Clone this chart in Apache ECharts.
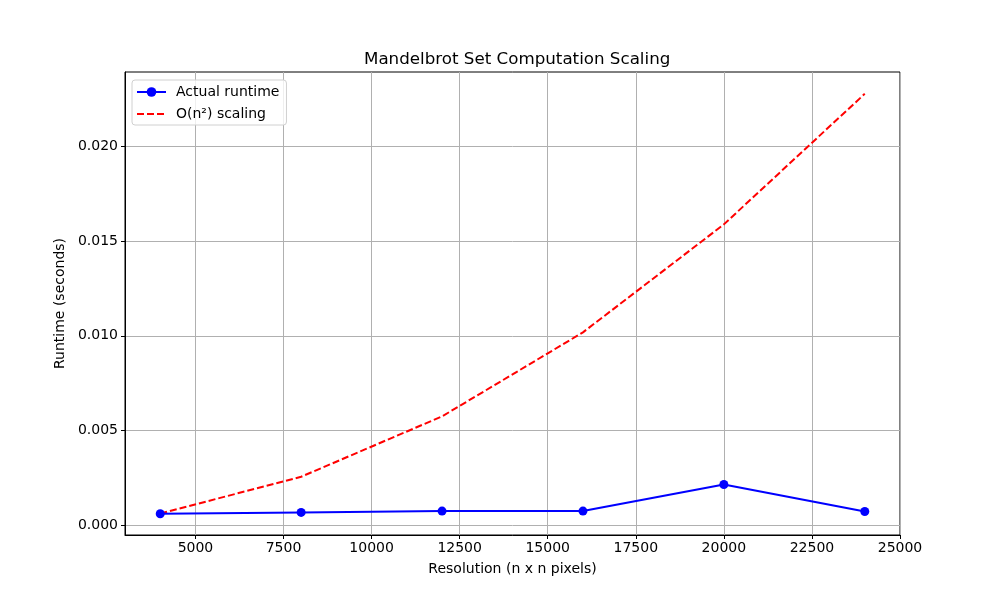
<!DOCTYPE html>
<html>
<head>
<meta charset="utf-8">
<script src="https://cdn.jsdelivr.net/npm/echarts@6/dist/echarts.min.js"></script>
<style>
  html, body { margin: 0; padding: 0; background: #fff; }
  #chart { width: 1000px; height: 600px; }
</style>
</head>
<body>
<div id="chart"></div>
<script>
// resolution n (n x n pixels)
const resolutions = [4000, 8000, 12000, 16000, 20000, 24000];
// measured runtime, seconds
const actualRuntime = [0.00062, 0.00069, 0.00076, 0.00076, 0.00216, 0.00074];
// O(n^2) reference curve, seconds
const quadScaling = [0.00063, 0.00257, 0.00575, 0.01018, 0.01587, 0.02275];
const xTicks = [5000, 7500, 10000, 12500, 15000, 17500, 20000, 22500, 25000];
const yTicks = [0, 0.005, 0.010, 0.015, 0.020];

const font = "DejaVu Sans";
const chart = echarts.init(document.getElementById("chart"));

const pairs = (ys) => resolutions.map((x, i) => [x, ys[i]]);

chart.setOption({
  animation: false,
  backgroundColor: "#fff",
  textStyle: { fontFamily: font },
  title: {
    text: "Mandelbrot Set Computation Scaling",
    left: 359,
    top: 46,
    textStyle: { fontFamily: font, fontSize: 16.7, fontWeight: "normal", color: "#000" },
  },
  grid: {
    left: 125, right: 100, top: 72, bottom: 65,
    show: true, borderColor: "#000", borderWidth: 1, backgroundColor: "#fff",
  },
  legend: {
    orient: "vertical",
    left: 132, top: 80,
    itemWidth: 29, itemHeight: 12, itemGap: 8,
    padding: [5, 7, 4, 4],
    borderColor: "#d0d0d0", borderWidth: 1, borderRadius: 3,
    backgroundColor: "rgba(255,255,255,0.8)",
    textStyle: { fontFamily: font, fontSize: 14, color: "#000", padding: [0, 0, 0, 5] },
    data: [
      { name: "Actual runtime" },
      { name: "O(n²) scaling", itemStyle: { opacity: 0 } },
    ],
  },
  xAxis: {
    type: "value",
    min: 3000, max: 25000,
    name: "Resolution (n x n pixels)",
    nameLocation: "middle", nameGap: 27,
    nameTextStyle: { fontFamily: font, fontSize: 14, color: "#000" },
    axisLine: { show: true, onZero: false, lineStyle: { color: "#000", width: 1 } },
    axisTick: { show: true, length: 4, lineStyle: { color: "#000" }, customValues: xTicks },
    axisLabel: {
      customValues: xTicks, fontFamily: font, fontSize: 14, color: "#000", margin: 6,
      formatter: (v) => String(v),
    },
    splitLine: { show: true, lineStyle: { color: "#b0b0b0", width: 1 } },
  },
  yAxis: {
    type: "value",
    min: -0.0005, max: 0.0239,
    name: "Runtime (seconds)",
    nameLocation: "middle", nameGap: 56, nameRotate: 90,
    nameTextStyle: { fontFamily: font, fontSize: 14, color: "#000" },
    axisLine: { show: true, onZero: false, lineStyle: { color: "#000", width: 1 } },
    axisTick: { show: true, length: 4, lineStyle: { color: "#000" }, customValues: yTicks },
    axisLabel: {
      customValues: yTicks, fontFamily: font, fontSize: 14, color: "#000", margin: 7,
      formatter: (v) => v.toFixed(3),
    },
    splitLine: { show: true, lineStyle: { color: "#b0b0b0", width: 1 } },
  },
  series: [
    {
      name: "Actual runtime",
      type: "line",
      data: pairs(actualRuntime),
      symbol: "circle", symbolSize: 9,
      itemStyle: { color: "#0000ff" },
      lineStyle: { color: "#0000ff", width: 2 },
      z: 3,
    },
    {
      name: "O(n²) scaling",
      type: "line",
      data: pairs(quadScaling),
      symbol: "none",
      itemStyle: { color: "#ff0000" },
      lineStyle: { color: "#ff0000", width: 2, type: [7, 3] },
      z: 2,
    },
  ],
});
</script>
</body>
</html>
